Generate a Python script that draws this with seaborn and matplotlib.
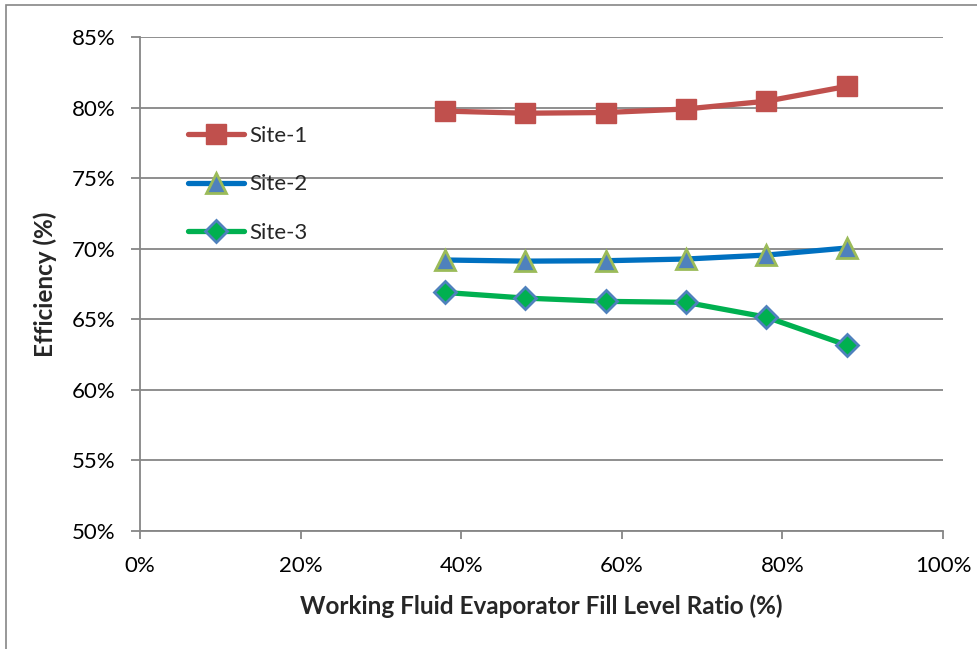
import matplotlib
matplotlib.use("Agg")
import matplotlib.pyplot as plt
import seaborn as sns
import pandas as pd
from matplotlib.ticker import PercentFormatter
from matplotlib.patches import Rectangle

fill_ratio = [38, 48, 58, 68, 78, 88]
site1 = [79.75, 79.6, 79.65, 79.9, 80.45, 81.5]
site2 = [69.2, 69.12, 69.15, 69.27, 69.55, 70.05]
site3 = [66.9, 66.5, 66.27, 66.2, 65.15, 63.17]
sites = ["Site-1", "Site-2", "Site-3"]
x_ticks = [0, 20, 40, 60, 80, 100]
y_ticks = [50, 55, 60, 65, 70, 75, 80, 85]

df = pd.DataFrame({
    "fill": fill_ratio * 3,
    "eff": site1 + site2 + site3,
    "site": [s for s in sites for _ in fill_ratio],
})

sns.set_theme(style="white")
plt.rcParams["font.family"] = ["Lato", "DejaVu Sans"]

fig = plt.figure(figsize=(9.78, 6.49), dpi=100)
ax = fig.add_axes([140/978, 1-531/649, 803/978, 494/649])

styles = {
    "Site-1": dict(color="#C0504D", marker="s", markersize=14.5, mfc="#C0504D", mec="#C0504D", mew=1),
    "Site-2": dict(color="#0070C0", marker="^", markersize=15, mfc="#4F81BD", mec="#9BBB59", mew=2),
    "Site-3": dict(color="#00B050", marker="D", markersize=11, mfc="#00B050", mec="#4F81BD", mew=2),
}
for s in sites:
    st = styles[s]
    sns.lineplot(data=df[df.site == s], x="fill", y="eff", ax=ax, label=s,
                 color=st["color"], linewidth=3.8, marker=st["marker"],
                 markersize=st["markersize"], markerfacecolor=st["mfc"],
                 markeredgecolor=st["mec"], markeredgewidth=st["mew"], zorder=3)

ax.set_xlim(0, 100)
ax.set_ylim(50, 85)
ax.set_xticks(x_ticks)
ax.set_yticks(y_ticks)
ax.xaxis.set_major_formatter(PercentFormatter(decimals=0))
ax.yaxis.set_major_formatter(PercentFormatter(decimals=0))
ax.grid(axis="y", color="#868686", linewidth=1.3)
ax.set_axisbelow(True)
for side in ["top", "right"]:
    ax.spines[side].set_visible(False)
for side in ["left", "bottom"]:
    ax.spines[side].set_color("#868686")
    ax.spines[side].set_linewidth(1.3)
ax.tick_params(axis="both", which="major", direction="out", width=1.3,
               color="#868686", labelsize=16, labelcolor="black",
               bottom=True, left=True)
ax.tick_params(axis="y", length=6.5, pad=11)
ax.tick_params(axis="x", length=5.8, pad=12)
ax.set_xlabel("Working Fluid Evaporator Fill Level Ratio (%)", fontsize=17.5,
              fontweight="bold")
ax.set_ylabel("Efficiency (%)", fontsize=17.5, fontweight="bold")
ax.xaxis.set_label_coords(0.5, (531 - 606) / 494, transform=ax.transAxes)
ax.yaxis.set_label_coords((45 - 140) / 803, 0.5, transform=ax.transAxes)
ax.xaxis.label.set_va("center")
ax.yaxis.label.set_va("center")

leg = ax.legend(loc="upper left", bbox_to_anchor=(48/803, (531-126)/494), frameon=False,
                fontsize=16, handlelength=2.5, handletextpad=0.25,
                labelspacing=1.28, borderaxespad=0, borderpad=0)

fig.patches.append(Rectangle((6/978, -0.1), 1.2, 1 - 5/649 + 0.1,
                             transform=fig.transFigure, fill=False,
                             edgecolor="#868686", linewidth=1.2))

fig.savefig("out.png", dpi=100)
